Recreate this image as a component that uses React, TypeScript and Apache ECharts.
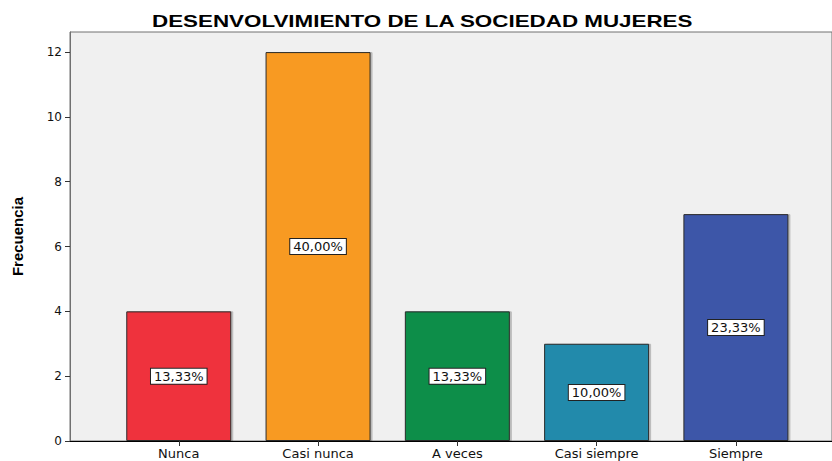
import React, { useEffect, useRef } from "react";
import * as echarts from "echarts";

const chartTitle = "DESENVOLVIMIENTO DE LA SOCIEDAD MUJERES";
const categories = ["Nunca", "Casi nunca", "A veces", "Casi siempre", "Siempre"];
const frequencies = [4, 12, 4, 3, 7];
const percentLabels = ["13,33%", "40,00%", "13,33%", "10,00%", "23,33%"];
const barColors = ["#EF333D", "#F89A20", "#118E48", "#238AAB", "#3D56A8"];
const yTicks = [0, 2, 4, 6, 8, 10, 12];
const xPositions = [0, 1, 2, 3, 4];

export default function App() {
  const ref = useRef<HTMLDivElement>(null);
  useEffect(() => {
    if (!ref.current) return;
    const chart = echarts.init(ref.current, null, { renderer: "svg" });
    const font = "'Liberation Sans', Arial, sans-serif";
    const wide = "'DejaVu Sans', 'Liberation Sans', sans-serif";
    chart.setOption({
      animation: false,
      backgroundColor: "#ffffff",
      graphic: [
        {
          type: "text",
          x: 152,
          y: 13,
          scaleX: 1.357,
          scaleY: 1,
          style: {
            text: chartTitle,
            x: 0,
            y: 0,
            align: "left",
            verticalAlign: "top",
            font: "bold 16.5px 'Liberation Sans', Arial, sans-serif",
            fill: "#000",
          },
        },
      ],
      grid: {
        left: 70,
        right: -2,
        top: 32,
        bottom: 20,
        show: true,
        backgroundColor: "#f0f0f0",
        borderColor: "#707070",
        borderWidth: 1,
      },
      xAxis: {
        type: "value",
        min: -0.781,
        max: 4.69,
        splitLine: { show: false },
        axisLine: { show: true, onZero: false, lineStyle: { color: "#000", width: 1 } },
        axisTick: { show: true, customValues: xPositions, length: 5, lineStyle: { color: "#333" } },
        axisLabel: {
          customValues: xPositions,
          formatter: (v: number) => categories[Math.round(v)] ?? "",
          fontFamily: wide,
          fontSize: 13,
          color: "#111",
          margin: 6,
        },
      },
      yAxis: {
        type: "value",
        min: 0,
        max: 12.62,
        name: "Frecuencia",
        nameLocation: "middle",
        nameGap: 45,
        nameTextStyle: {
          fontFamily: font,
          fontWeight: "bold",
          fontSize: 15,
          color: "#000",
        },
        splitLine: { show: false },
        axisLine: { show: true, onZero: false, lineStyle: { color: "#707070", width: 1 } },
        axisTick: { show: true, customValues: yTicks, length: 5, lineStyle: { color: "#333" } },
        axisLabel: {
          customValues: yTicks,
          fontFamily: wide,
          fontSize: 12,
          color: "#111",
          margin: 8,
        },
      },
      series: [
        {
          type: "bar",
          barWidth: 105,
          data: frequencies.map((f, i) => ({
            value: [xPositions[i], f],
            itemStyle: {
              color: barColors[i],
              borderColor: "#2a2a2a",
              borderWidth: 1,
              shadowColor: "rgba(0,0,0,0.22)",
              shadowOffsetX: 2,
              shadowOffsetY: 0,
              shadowBlur: 0,
            },
          })),
          label: {
            show: true,
            position: "inside",
            formatter: (p: any) => percentLabels[p.dataIndex],
            fontFamily: wide,
            fontSize: 13,
            color: "#111",
            backgroundColor: "#ffffff",
            borderColor: "#222",
            borderWidth: 1,
            padding: [1, 3, 1, 3],
          },
        },
      ],
    });
    return () => chart.dispose();
  }, []);
  return <div ref={ref} style={{ width: 832, height: 461, position: "absolute", left: 0, top: 0 }} />;
}
